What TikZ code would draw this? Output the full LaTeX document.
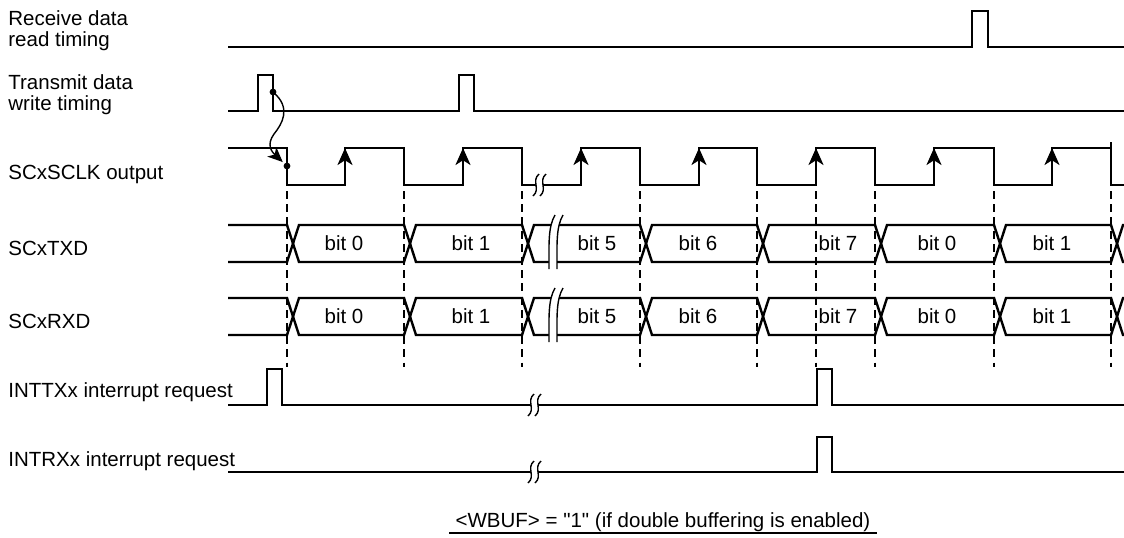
\documentclass[tikz,border=0pt]{standalone}
\usepackage{fontspec}
\setmainfont{Liberation Sans}[Ligatures=TeXOff]
\usetikzlibrary{arrows.meta}

\begin{document}
\begin{tikzpicture}[
    x=0.5pt, y=-0.5pt,
    >=Stealth,
    font=\fontsize{10.25pt}{10.3pt}\selectfont,
    sig/.style={line width=1.2pt, line join=miter},
    guide/.style={line width=0.65pt, dash pattern=on 4pt off 2.6pt},
    brk/.style={line width=0.7pt},
    edgearrow/.style={-{Stealth[length=8.5pt, width=7.5pt, inset=2.4pt]}},
    lbl/.style={anchor=base west, inner sep=0pt, align=left},
    bitlbl/.style={inner sep=0pt},
    dot/.style={circle, fill, inner sep=0pt, minimum size=3.4pt},
]
\useasboundingbox (0,0) rectangle (1124,537);

% ===== Signal names (left column) =====
\node[lbl] (rdlbl)    at (8,46)  {Receive data\\read timing};
\node[lbl] (wrlbl)    at (8,110) {Transmit data\\write timing};
\node[lbl] (clklbl)   at (8,179) {SCxSCLK output};
\node[lbl] (txdlbl)   at (8,255) {SCxTXD};
\node[lbl] (rxdlbl)   at (8,328) {SCxRXD};
\node[lbl] (inttxlbl) at (8,397) {INTTXx interrupt request};
\node[lbl] (intrxlbl) at (8,466) {INTRXx interrupt request};

% ===== Read / write strobes =====
\draw[sig] (228,47) -- (972,47) -- (972,11) -- (988,11) -- (988,47) -- (1124,47);
\draw[sig] (228,111) -- (258,111) -- (258,75) -- (273,75) -- (273,111)
    -- (459,111) -- (459,75) -- (474,75) -- (474,111) -- (1124,111);

% ===== Serial clock =====
\draw[sig] (228,148) -- (287,148) -- (287,185) -- (345,185) -- (345,148)
    -- (404,148) -- (404,185) -- (463,185) -- (463,148) -- (522,148)
    -- (522,185) -- (581,185) -- (581,148) -- (640,148) -- (640,185)
    -- (699,185) -- (699,148) -- (757,148) -- (757,185) -- (816,185)
    -- (816,148) -- (875,148) -- (875,185) -- (934,185) -- (934,148)
    -- (994,148) -- (994,185) -- (1052,185) -- (1052,148) -- (1111,148)
    -- (1111,185) -- (1124,185);
\draw[brk] (1111,142) -- (1111,148);
\foreach \x in {345,463,581,699,816,934,1052}
    \draw[sig, edgearrow] (\x,185) -- (\x,148);

% ===== Data buses =====
\foreach \bus/\ym in {tx/243.5, rx/316.5} {
    \pgfmathsetmacro\yt{\ym-18.5}
    \pgfmathsetmacro\yb{\ym+18.5}
    \draw[sig] (228,\yt) -- (287,\yt) -- (293,\ym) -- (287,\yb) -- (228,\yb);
    \foreach \a/\b/\bx/\txt [count=\i] in {287/404/344/bit 0, 404/522/471/bit 1,
            522/640/597/bit 5, 640/757/698/bit 6, 757/875/838/bit 7,
            875/994/937/bit 0, 994/1111/1052/bit 1} {
        \draw[sig] (\a+6,\ym) -- (\a+12,\yt) -- (\b,\yt) -- (\b+6,\ym)
            -- (\b,\yb) -- (\a+12,\yb) -- cycle;
        \node[bitlbl] (\bus-\i) at (\bx,\ym) {\txt};
    }
    \draw[sig] (1124,\yt) -- (1123,\yt) -- (1117,\ym) -- (1123,\yb) -- (1124,\yb);
    % break in the bus
    \fill[white] (555,\yt-10) .. controls (548,\yt+2) and (549,\ym) .. (549,\yb+7)
        -- (557,\yb+7) .. controls (557,\ym) and (556,\yt+2) .. (563,\yt-10) -- cycle;
    \draw[brk] (555,\yt-10) .. controls (548,\yt+2) and (549,\ym) .. (549,\yb+7);
    \draw[brk] (563,\yt-10) .. controls (556,\yt+2) and (557,\ym) .. (557,\yb+7);
}

% ===== Interrupt requests =====
\draw[sig] (228,405) -- (267,405) -- (267,369) -- (282,369) -- (282,405)
    -- (817,405) -- (817,369) -- (832,369) -- (832,405) -- (1124,405);
\draw[sig] (228,472) -- (817,472) -- (817,437) -- (832,437) -- (832,472) -- (1124,472);

% --- Small breaks on clock and interrupt lines ---
\foreach \bx/\by in {536/185, 531/405, 531/472} {
    \fill[white] (\bx+3,\by-11) .. controls (\bx-5,\by-4) and (\bx+5,\by+4) .. (\bx-3,\by+11)
        -- (\bx+4,\by+11) .. controls (\bx+12,\by+4) and (\bx+2,\by-4) .. (\bx+10,\by-11) -- cycle;
    \draw[brk] (\bx+3,\by-11) .. controls (\bx-5,\by-4) and (\bx+5,\by+4) .. (\bx-3,\by+11);
    \draw[brk] (\bx+10,\by-11) .. controls (\bx+2,\by-4) and (\bx+12,\by+4) .. (\bx+4,\by+11);
}

% ===== Guide lines at clock edges =====
\foreach \x in {287,404,522,640,757,816,875,994,1111}
    \draw[guide] (\x,191) -- (\x,367);

% ===== Write strobe triggers the first clock edge =====
\node[dot] (wrdot)  at (273,92)  {};
\node[dot] (clkdot) at (287,166) {};
\draw[brk, -{Stealth[length=7.5pt, width=6.5pt, inset=2pt]}, shorten >=1pt]
    (wrdot.center) .. controls (292,108) and (282,124) .. (274,134)
    .. controls (266,145) and (272,152) .. (clkdot);

% ===== Mode note =====
\node[anchor=base, inner xsep=3pt, inner ysep=0pt] (wbuf) at (663,527)
    {<WBUF> = "1" (if double buffering is enabled)};
\draw[line width=0.6pt] ([yshift=-3pt]wbuf.base west) -- ([yshift=-3pt]wbuf.base east);

\end{tikzpicture}
\end{document}
